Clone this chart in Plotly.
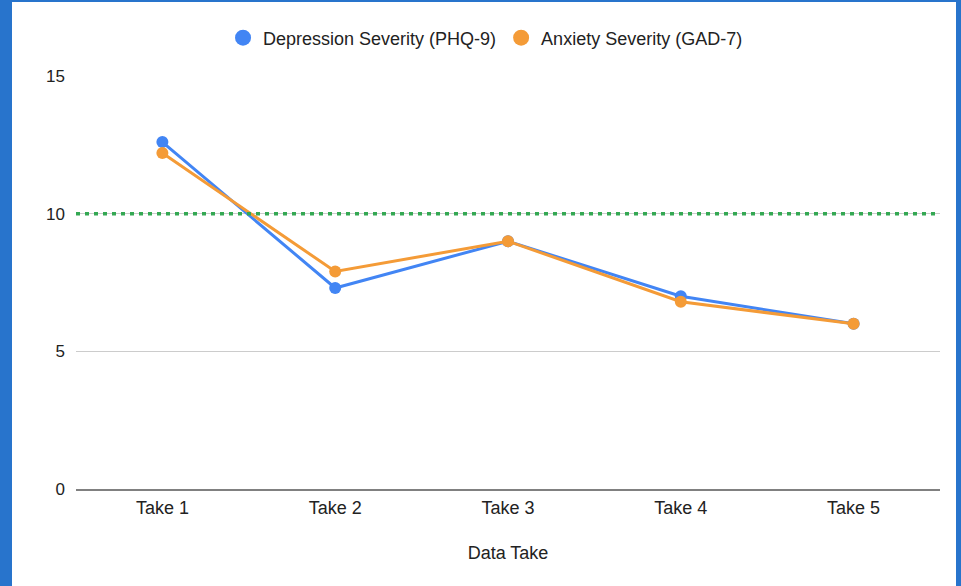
import plotly.graph_objects as go

categories = ["Take 1", "Take 2", "Take 3", "Take 4", "Take 5"]
phq9 = [12.6, 7.3, 9.0, 7.0, 6.0]
gad7 = [12.2, 7.9, 9.0, 6.8, 6.0]
threshold = 10
y_ticks = [0, 5, 10, 15]
series_names = ["Depression Severity (PHQ-9)", "Anxiety Severity (GAD-7)"]

BLUE = "#4285F4"
ORANGE = "#F49B37"
FONT = "Liberation Sans, Arial, sans-serif"
TXT = "#222222"

fig = go.Figure()
for vals, name, col in [(phq9, series_names[0], BLUE), (gad7, series_names[1], ORANGE)]:
    fig.add_trace(go.Scatter(
        x=categories, y=vals, name=name, showlegend=False, legendgroup=name,
        mode="lines+markers", line=dict(color=col, width=3),
        marker=dict(color=col, size=12), cliponaxis=False,
    ))
# legend entries: circle only
for name, col in [(series_names[0], BLUE), (series_names[1], ORANGE)]:
    fig.add_trace(go.Scatter(
        x=[None], y=[None], name=name, legendgroup=name, mode="markers",
        marker=dict(color=col, size=16), showlegend=True,
    ))

fig.add_shape(type="line", xref="paper", yref="y", x0=0, x1=1,
              y0=threshold, y1=threshold,
              line=dict(color="#34A853", width=3.5, dash="4px,5px"))

# frame border (decoration)
BORDER = "#2874CC"
fig.add_shape(type="rect", xref="paper", yref="paper", xsizemode="pixel", ysizemode="pixel",
              xanchor=0, yanchor=0, x0=-80, x1=-64, y0=-100, y1=520,
              fillcolor=BORDER, line=dict(width=0), layer="above")
fig.add_shape(type="rect", xref="paper", yref="paper", xsizemode="pixel", ysizemode="pixel",
              xanchor=0, yanchor=1, x0=-80, x1=900, y0=74, y1=80,
              fillcolor=BORDER, line=dict(width=0), layer="above")
fig.add_shape(type="rect", xref="paper", yref="paper", xsizemode="pixel", ysizemode="pixel",
              xanchor=1, yanchor=0, x0=16, x1=30, y0=-100, y1=520,
              fillcolor=BORDER, line=dict(width=0), layer="above")

fig.update_layout(
    width=961, height=586,
    margin=dict(l=76, r=21, t=76, b=97),
    paper_bgcolor="white", plot_bgcolor="white",
    font=dict(family=FONT, size=18, color=TXT),
    legend=dict(orientation="h", x=0.474, xanchor="center", y=1.092, yanchor="middle",
                font=dict(size=18, color=TXT), itemwidth=30, traceorder="normal"),
    showlegend=True,
    xaxis=dict(
        range=[-0.5, len(categories) - 0.5],
        showgrid=False, showline=True, linecolor="#808080", linewidth=2,
        ticks="", tickfont=dict(size=18, color=TXT), ticklabelstandoff=1,
        title=dict(text="Data Take", font=dict(size=18, color=TXT), standoff=30),
    ),
    yaxis=dict(
        range=[0, 15], tickvals=y_ticks, showgrid=True, gridcolor="#CCCCCC", gridwidth=1,
        zeroline=False, showline=False, ticks="", ticklabelstandoff=10,
        tickfont=dict(size=17, color=TXT),
    ),
)

fig.write_html("out.html", config={"displayModeBar": False},
               post_script="document.body.style.margin='0';")
